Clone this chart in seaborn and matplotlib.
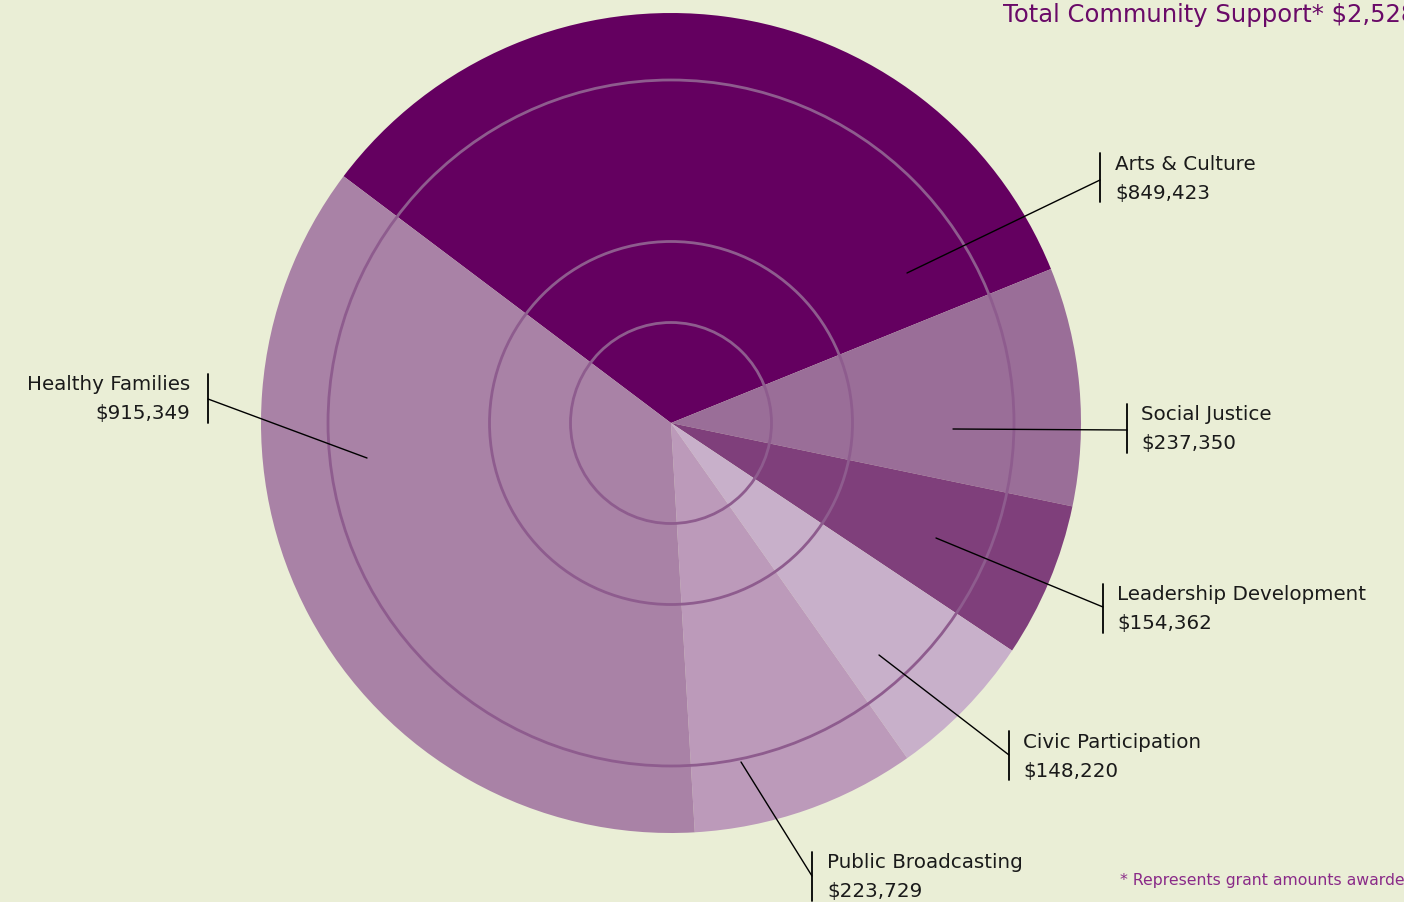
import matplotlib
matplotlib.use("Agg")
import matplotlib.pyplot as plt
import seaborn as sns
from matplotlib.patches import Circle

categories = ["Arts & Culture", "Social Justice", "Leadership Development",
              "Civic Participation", "Public Broadcasting", "Healthy Families"]
amounts = [849423, 237350, 154362, 148220, 223729, 915349]
amount_labels = ["$849,423", "$237,350", "$154,362", "$148,220", "$223,729", "$915,349"]
title_text = "Total Community Support* $2,528,433"
footnote_text = "* Represents grant amounts awarded"

colors = ["#640060", "#9a6e98", "#7f3f7b", "#c8b0ca", "#bc9aba", "#a982a6"]
bg = "#eaeed6"

sns.set_style("white")
plt.rcParams['font.family'] = ['DejaVu Sans']

W, H = 1404, 902
fig = plt.figure(figsize=(W / 100, H / 100), dpi=100, facecolor=bg)
ax = fig.add_axes([0, 0, 1, 1])
ax.set_facecolor(bg)

def Y(y):  # pixel-from-top to data
    return H - y

cx, cy, R = 671, Y(423), 410
ax.pie(amounts, colors=colors, startangle=143, counterclock=False,
       center=(cx, cy), radius=R, wedgeprops=dict(linewidth=0),
       frame=True)
ax.set_xlim(0, W)
ax.set_ylim(0, H)
ax.set_aspect("equal")
ax.axis("off")

for r in [100.5, 181.5, 343]:
    ax.add_patch(Circle((cx, cy), r, fill=False, edgecolor="#8e5c8e", linewidth=2, zorder=3))

# layout: (inner point), (bar point), bar x, bar y top, text x, align
layout = [
    ((907, 273), (1100, 180), 1100, 153, 1115, "left"),
    ((953, 429), (1127, 430), 1127, 404, 1141, "left"),
    ((936, 538), (1103, 607), 1103, 584, 1117, "left"),
    ((879, 655), (1009, 755), 1009, 731, 1023, "left"),
    ((741, 762), (812, 876), 812, 852, 827, "left"),
    ((367, 458), (208, 399), 208, 374, 190, "right"),
]
for (cat, lab), (p0, p1, bx, by, tx, ha) in zip(zip(categories, amount_labels), layout):
    ax.plot([p0[0], p1[0]], [Y(p0[1]), Y(p1[1])], color="black", linewidth=1, zorder=4)
    ax.plot([bx, bx], [Y(by), Y(by + 49)], color="black", linewidth=1.3, zorder=4)
    ax.text(tx, Y(by + 11), cat, ha=ha, va="center", fontsize=14.3, color="#1a1a1a")
    ax.text(tx, Y(by + 40), lab, ha=ha, va="center", fontsize=14.3, color="#1a1a1a")

ax.text(1003, Y(15), title_text, ha="left", va="center", fontsize=17.5, color="#6a0a68")
ax.text(1120, Y(881), footnote_text, ha="left", va="center", fontsize=11.3, color="#8a2a88")

fig.savefig("out.png", dpi=100, facecolor=bg)
